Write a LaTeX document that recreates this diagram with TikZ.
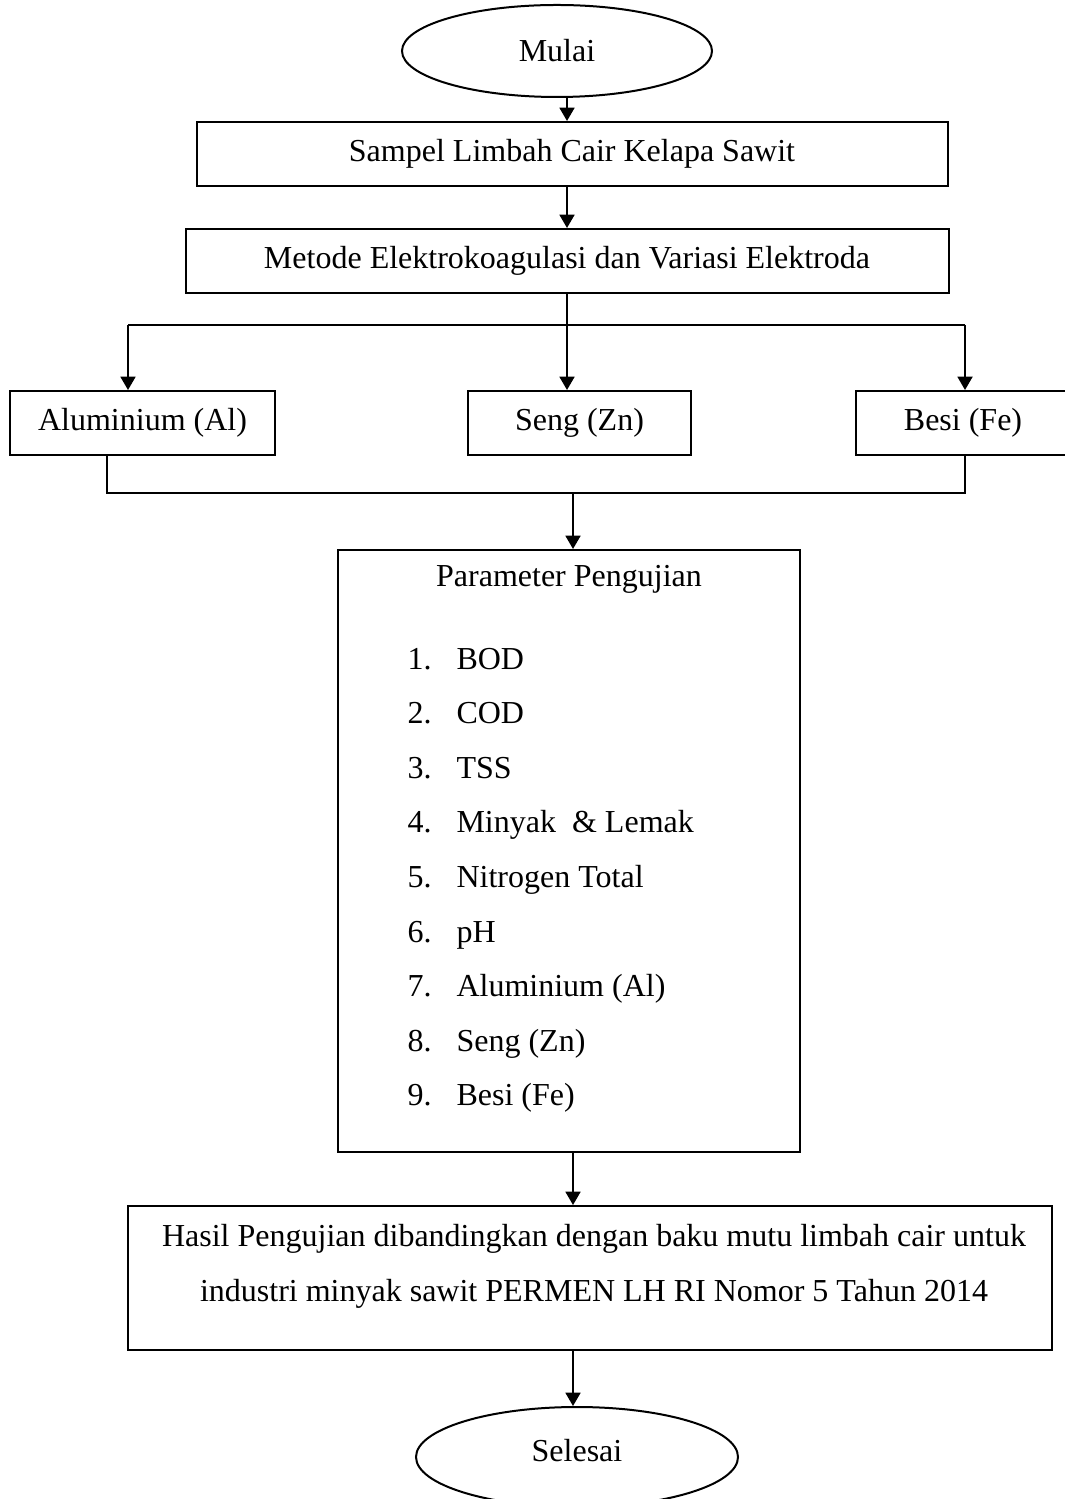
\documentclass[tikz,border=0pt]{standalone}
\usepackage{fontspec}
\setmainfont{Liberation Serif}
\usetikzlibrary{shapes.geometric, arrows.meta}

\def\pxu{0.375pt}
\tikzset{
    terminal/.style={draw, ellipse, line width=0.75pt, inner sep=0pt},
    proses/.style={draw, rectangle, line width=0.75pt, inner sep=0pt, minimum height=64*\pxu},
    panah/.style={-{Triangle[length=5pt, width=5.6pt]}, line width=0.75pt},
    garis/.style={line width=0.75pt}
}

\begin{document}
\begin{tikzpicture}[x=0.375pt, y=-0.375pt, font=\fontsize{12}{14.4}\selectfont]
    \useasboundingbox (0,0) rectangle (1064,1499);

    \node[terminal, minimum width=310*\pxu, minimum height=92*\pxu] (mulai) at (557,51) {Mulai};
    \node[proses, minimum width=751*\pxu] (sampel) at (572,154) {Sampel Limbah Cair Kelapa Sawit};
    \node[proses, minimum width=763*\pxu] (metode) at (567,261) {Metode Elektrokoagulasi dan Variasi Elektroda};

    \node[proses, minimum width=265*\pxu] (al) at (142.5,423) {Aluminium (Al)};
    \node[proses, minimum width=223*\pxu] (seng) at (579.5,423) {Seng (Zn)};
    \node[proses, minimum width=214*\pxu] (besi) at (963,423) {Besi (Fe)};

    % parameter
    \node[proses, minimum width=462*\pxu, minimum height=602*\pxu] (param) at (569,851) {};
    \node (judul) at (569,579) {Parameter Pengujian};
    \foreach \nama [count=\i] in {BOD, COD, TSS, {Minyak~~\& Lemak}, Nitrogen Total, pH,
                                  Aluminium (Al), Seng (Zn), Besi (Fe)} {
        \node[anchor=base west, inner sep=0pt] (no\i) at (407,{669+54.6*(\i-1)}) {\i.};
        \node[anchor=base west, inner sep=0pt] (par\i) at (456,{669+54.6*(\i-1)}) {\nama};
    }

    \node[proses, minimum width=924*\pxu, minimum height=144*\pxu] (hasil) at (590,1278) {};
    \node[align=center, inner sep=0pt, font=\fontsize{12}{20.6}\selectfont] (hasiltext) at (594,1266)
        {Hasil Pengujian dibandingkan dengan baku mutu limbah cair untuk\\
         industri minyak sawit PERMEN LH RI Nomor 5 Tahun 2014};

    \node[terminal, minimum width=322*\pxu, minimum height=100*\pxu] (selesai) at (577,1457) {};
    \node (selesaitext) at (577,1451) {Selesai};

    % connectors
    \coordinate (split) at (567,325);
    \coordinate (alin) at (128,325);
    \coordinate (bein) at (965,325);
    \coordinate (alout) at (107,493);
    \coordinate (beout) at (965,493);
    \coordinate (join) at (573,493);

    \draw[panah] (mulai.south -| metode.center) -- (metode.center |- sampel.north);
    \draw[panah] (sampel.south -| metode.center) -- (metode.north);
    \draw[panah] (metode.south) -- (split) -- (split |- seng.north);
    \draw[garis] (alin) -- (bein);
    \draw[panah] (alin) -- (alin |- al.north);
    \draw[panah] (bein) -- (bein |- besi.north);
    \draw[garis] (alout |- al.south) -- (alout) -- (beout) -- (beout |- besi.south);
    \draw[panah] (join) -- (join |- param.north);
    \draw[panah] (param.south -| join) -- (join |- hasil.north);
    \draw[panah] (hasil.south -| join) -- (join |- selesai.north);
\end{tikzpicture}
\end{document}
